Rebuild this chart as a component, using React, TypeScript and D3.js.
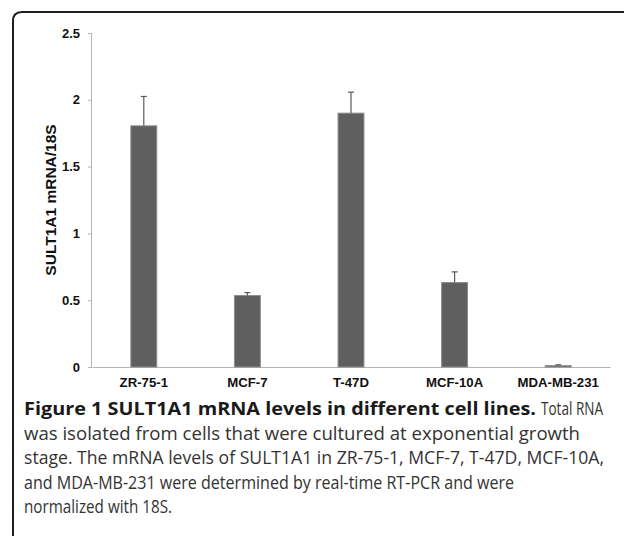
import * as d3 from "d3";
import { useEffect, useRef } from "react";

const cellLines = ["ZR-75-1", "MCF-7", "T-47D", "MCF-10A", "MDA-MB-231"];
const mrnaLevels = [1.805, 0.535, 1.9, 0.632, 0.01];
const errorTops = [2.025, 0.557, 2.057, 0.712, 0.016];
const yTicks = [0, 0.5, 1, 1.5, 2, 2.5];

const captionBold = "Figure 1 SULT1A1 mRNA levels in different cell lines.";
const captionLines = [
	"Total RNA",
	"was isolated from cells that were cultured at exponential growth",
	"stage. The mRNA levels of SULT1A1 in ZR-75-1, MCF-7, T-47D, MCF-10A,",
	"and MDA-MB-231 were determined by real-time RT-PCR and were",
	"normalized with 18S.",
];
// widths the caption lines take in the figure
const captionWidths = [62, 556, 580, 490, 148];

const App = () => {
	const svgRef = useRef<SVGSVGElement>(null);

	useEffect(() => {
		const width = 624,
			height = 536;
		const margin = { top: 33, right: 14, bottom: 169, left: 92 };
		const plotW = width - margin.left - margin.right;
		const plotH = height - margin.top - margin.bottom;

		const svg = d3.select(svgRef.current).html("");

		// frame with rounded left corners
		svg.append("path")
			.attr("d", "M13,540 L13,21 Q13,12 22,12 L640,12")
			.attr("fill", "none")
			.attr("stroke", "#1e1e1e")
			.attr("stroke-width", 2);

		const g = svg
			.append("g")
			.attr("transform", `translate(${margin.left},${margin.top})`);

		const x = d3
			.scaleBand()
			.domain(cellLines)
			.range([0, plotW])
			.paddingInner(0.75)
			.paddingOuter(0.375);

		const y = d3.scaleLinear().domain([0, 2.5]).range([plotH, 0]);

		// y axis
		const yAxis = g
			.append("g")
			.call(d3.axisLeft(y).tickValues(yTicks).tickSize(4).tickPadding(8).tickFormat((d) => String(d)));
		yAxis.select(".domain").attr("stroke", "#b4b4b4").attr("d", `M-0.5,0V${plotH}`);
		yAxis.selectAll(".tick line").attr("stroke", "#b4b4b4");
		yAxis
			.selectAll(".tick text")
			.attr("fill", "#111")
			.style("font-family", "'Liberation Sans', Arial, sans-serif")
			.style("font-weight", "bold")
			.style("font-size", "13px");

		// x axis baseline
		const xAxis = g
			.append("g")
			.attr("transform", `translate(0,${plotH})`)
			.call(d3.axisBottom(x).tickSize(0).tickPadding(11));
		xAxis.select(".domain").attr("stroke", "#b4b4b4");
		xAxis
			.selectAll(".tick text")
			.attr("fill", "#111")
			.style("font-family", "'Liberation Sans', Arial, sans-serif")
			.style("font-weight", "bold")
			.style("font-size", "13.2px");

		// bars
		g.selectAll(".bar")
			.data(cellLines)
			.join("rect")
			.attr("x", (d) => x(d)!)
			.attr("y", (_, i) => y(mrnaLevels[i]))
			.attr("width", x.bandwidth())
			.attr("height", (_, i) => plotH - y(mrnaLevels[i]))
			.attr("fill", "#5f5f5f")
			.attr("stroke", "#8c8c8c")
			.attr("stroke-width", 1);

		// error bars
		cellLines.forEach((d, i) => {
			const cx = x(d)! + x.bandwidth() / 2;
			g.append("line")
				.attr("x1", cx)
				.attr("x2", cx)
				.attr("y1", y(mrnaLevels[i]))
				.attr("y2", y(errorTops[i]))
				.attr("stroke", "#5a5a5a")
				.attr("stroke-width", 1.2);
			g.append("line")
				.attr("x1", cx - 3)
				.attr("x2", cx + 3)
				.attr("y1", y(errorTops[i]))
				.attr("y2", y(errorTops[i]))
				.attr("stroke", "#5a5a5a")
				.attr("stroke-width", 1.2);
		});

		// y label
		svg.append("text")
			.attr("transform", `translate(56,${margin.top + plotH / 2}) rotate(-90)`)
			.attr("text-anchor", "middle")
			.attr("fill", "#111")
			.style("font-family", "'Liberation Sans', Arial, sans-serif")
			.style("font-weight", "bold")
			.style("font-size", "15.5px")
			.text("SULT1A1 mRNA/18S");

		// caption
		const capFont = (t: any) =>
			t.style("font-family", "'Open Sans', sans-serif")
				.style("font-size", "18px")
				.attr("lengthAdjust", "spacingAndGlyphs");
		svg.append("text")
			.call(capFont)
			.attr("x", 24)
			.attr("y", 415)
			.attr("fill", "#1a1a1a")
			.style("font-weight", "bold")
			.attr("textLength", 512)
			.text(captionBold);
		svg.append("text")
			.call(capFont)
			.attr("x", 541)
			.attr("y", 415)
			.attr("fill", "#333")
			.attr("textLength", captionWidths[0])
			.text(captionLines[0]);
		captionLines.slice(1).forEach((line, i) => {
			svg.append("text")
				.call(capFont)
				.attr("x", 24)
				.attr("y", 415 + (i + 1) * 24.5)
				.attr("fill", "#333")
				.attr("textLength", captionWidths[i + 1])
				.text(line);
		});
	}, []);

	return (
		<svg
			ref={svgRef}
			width={624}
			height={536}
			style={{ position: "absolute", left: 0, top: 0, background: "#fff" }}
		/>
	);
};

export default App;
